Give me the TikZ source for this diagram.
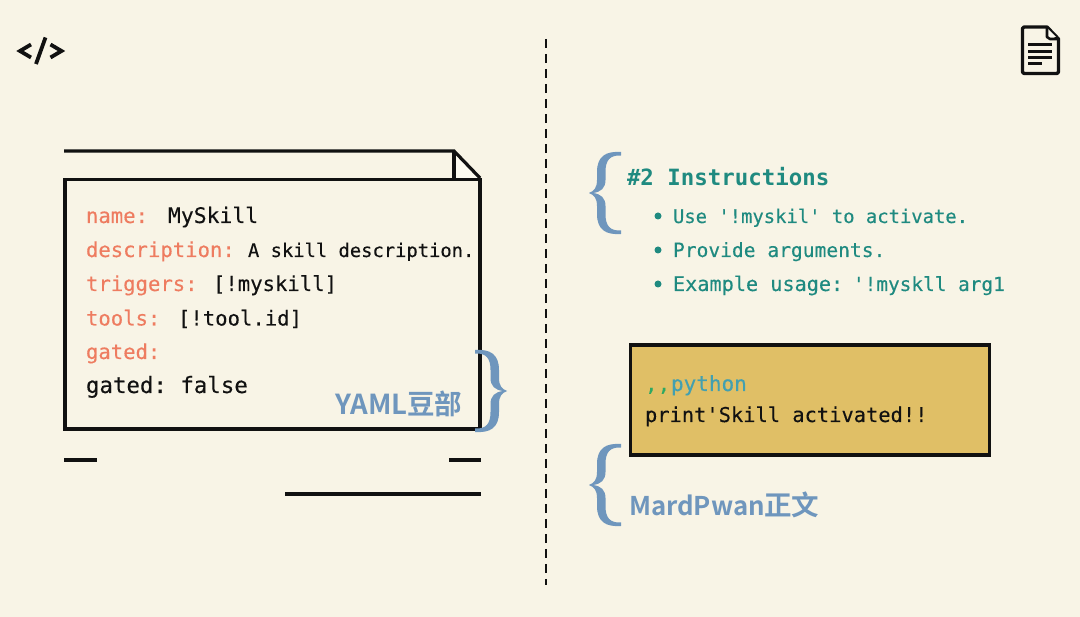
\documentclass[tikz,border=0pt]{standalone}
\usepackage{fontspec}
\setmonofont{DejaVu Sans Mono}[FakeBold=0.25,BoldFont={DejaVu Sans Mono Bold},BoldFeatures={FakeBold=0}]
\newfontfamily\cjk{Noto Sans CJK SC}[BoldFont={Noto Sans CJK SC Bold}]
\definecolor{bg}{HTML}{F8F4E6}
\definecolor{foldc}{HTML}{FCFAF0}
\definecolor{ink}{HTML}{111111}
\definecolor{keyc}{HTML}{EE7C60}
\definecolor{teal}{HTML}{1F8A80}
\definecolor{bluec}{HTML}{6F96BD}
\definecolor{yell}{HTML}{E0BF66}
\definecolor{pyc}{HTML}{43A0B0}
\definecolor{commac}{HTML}{2EA862}
\newcommand{\px}[1]{\fontsize{#1}{#1}\selectfont}
\tikzset{
  txt/.style={inner sep=0pt,outer sep=0pt,anchor=base west,font=\ttfamily\px{20.6},text=ink},
  keytxt/.style={txt,text=keyc},
  itemtxt/.style={txt,text=teal,font=\ttfamily\px{19}},
  bluetxt/.style={inner sep=0pt,outer sep=0pt,anchor=base west,text=bluec,font=\cjk\bfseries\px{27.5}},
  inkline/.style={draw=ink,line width=3.2pt},
  dot/.style={circle,fill=teal,inner sep=0pt,minimum size=7pt},
  leftbrace/.pic={
    \fill[bluec] (32,0) .. controls (17,-1) and (8,4) .. (8,20)
      -- (8,28) .. controls (8,36) and (5,39) .. (0,41)
      .. controls (5,43) and (8,46) .. (8,54)
      -- (8,62) .. controls (8,78) and (17,83) .. (32,82)
      -- (32,78.5) .. controls (21,79) and (16.5,74) .. (16.5,62)
      -- (16.5,54) .. controls (16.5,46) and (12,42) .. (4,41)
      .. controls (12,40) and (16.5,36) .. (16.5,28)
      -- (16.5,20) .. controls (16.5,8) and (21,3) .. (32,3.5) -- cycle;
  }
}
\begin{document}
\begin{tikzpicture}[x=1pt,y=-1pt]
\useasboundingbox (0,0) rectangle (1080,617);
\fill[bg] (0,0) rectangle (1080,617);

% code icon
\draw[ink,line width=3.8pt,line join=miter] (31,44.5) -- (20,51) -- (31,57.5);
\draw[ink,line width=3.8pt] (45.5,37.5) -- (36,64);
\draw[ink,line width=3.8pt,line join=miter] (50.5,44.5) -- (61.5,51) -- (50.5,57.5);

% document icon
\draw[ink,line width=3.4pt,line join=round] (1047,27) -- (1024,27) -- (1022.5,28.5) -- (1022.5,72) -- (1024,73.5) -- (1057,73.5) -- (1058.5,72) -- (1058.5,39) -- cycle;
\fill[foldc] (1048,29) -- (1048,37) -- (1056,37) -- cycle;
\draw[ink,line width=2.6pt,line join=round] (1047,27) -- (1047,37) -- (1050,39) -- (1058.5,39);
\foreach \yy/\xx in {45/1052,52/1052,58/1052,63.5/1042}
  \draw[ink,line width=3pt] (1028,\yy) -- (\xx,\yy);

% divider
\draw[ink,line width=2.6pt,dash pattern=on 9pt off 6pt] (546,39) -- (546,585);

% YAML sheet
\fill[foldc] (454,151) -- (480,178) -- (454,178) -- cycle;
\draw[inkline] (64,151) -- (454,151) -- (480,178);
\draw[inkline] (454,151) -- (454,179);
\draw[inkline] (65,179.5) rectangle (480,429);
\draw[inkline] (64,460) -- (97,460);
\draw[inkline] (449,460) -- (481,460);
\draw[inkline] (285,494) -- (481,494);

\node[keytxt] (k1) at (86,223) {name:};
\node[txt,font=\ttfamily\px{21.4}] (v1) at (168,223) {MySkill};
\node[keytxt] (k2) at (86,257) {description:};
\node[txt,font=\ttfamily\px{18.8}] (v2) at (248,257) {A skill description.};
\node[keytxt] (k3) at (86,291) {triggers:};
\node[txt] (v3) at (213,291) {[!myskill]};
\node[keytxt] (k4) at (86,325.5) {tools:};
\node[txt] (v4) at (178,325.5) {[!tool.id]};
\node[keytxt] (k5) at (86,359) {gated:};
\node[txt,font=\ttfamily\px{22.4}] (v6) at (86,393) {gated: false};
\node[bluetxt] (yaml) at (335,415) {YAML豆部};

% right brace of the sheet
\begin{scope}[shift={(507,350)},xscale=-1]
  \pic[transform shape] {leftbrace};
\end{scope}

% Markdown side
\begin{scope}[shift={(589,152)}]
  \pic {leftbrace};
\end{scope}
\node[txt,text=teal,font=\ttfamily\bfseries\px{22.4}] (title) at (627,186) {\#2 Instructions};
\node[dot] (d1) at (658,216) {};
\node[dot] (d2) at (658,250) {};
\node[dot] (d3) at (658,284) {};
\node[itemtxt,font=\ttfamily\px{18.85}] (i1) at (673,223) {Use '!myskil' to activate.};
\node[itemtxt,font=\ttfamily\px{19.6}] (i2) at (673,257) {Provide arguments.};
\node[itemtxt,font=\ttfamily\px{20.2}] (i3a) at (673,291) {Example usage:};
\node[itemtxt,font=\ttfamily\px{19.4}] (i3b) at (853,291) {'!myskll arg1};

\node[draw=ink,line width=3.2pt,fill=yell,minimum width=359pt,minimum height=110pt,inner sep=0pt,outer sep=0pt] (codebox) at (810,400) {};
\node[txt,font=\ttfamily\px{21},text=commac] (c1) at (645,391) {,,};
\node[txt,font=\ttfamily\px{21},text=pyc] (c2) at (671,391) {python};
\node[txt,font=\ttfamily\px{20.4}] (c3) at (645,422) {print'Skill activated!!};

\begin{scope}[shift={(589,444)}]
  \pic {leftbrace};
\end{scope}
\node[bluetxt,font=\cjk\bfseries\px{25.8}] (md) at (629,516) {MardPwan};
\node[bluetxt] (mdcn) at (764,516) {正文};
\end{tikzpicture}
\end{document}
